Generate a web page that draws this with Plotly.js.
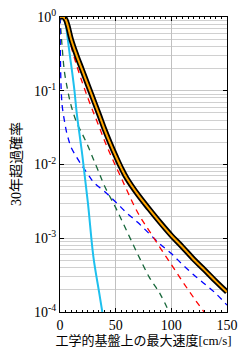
<!DOCTYPE html>
<html>
<head>
<meta charset="utf-8">
<script src="https://cdn.plot.ly/plotly-3.0.1.min.js"></script>
<style>html,body{margin:0;padding:0;background:#fff;}#chart{width:247px;height:357px;}</style>
</head>
<body>
<div id="chart"></div>
<script>
// Velocity (cm/s)
var totalX = [0, 3, 5, 7, 10, 15, 20, 25, 30, 35, 40, 45, 50, 55, 60, 70, 80, 90, 100, 110, 120, 130, 140, 150];
var totalP = [1.0, 1.0, 0.93, 0.76, 0.50, 0.30, 0.19, 0.12, 0.076, 0.048, 0.030, 0.0195, 0.0131, 0.0090, 0.0065, 0.0039, 0.00250, 0.00163, 0.00109, 0.00076, 0.00052, 0.00037, 0.00026, 0.000186];

var redX = [0, 2, 4, 6, 8, 10, 15, 20, 25, 30, 35, 40, 45, 50, 55, 60, 70, 80, 90, 100, 110, 120, 130];
var redP = [1.0, 1.0, 0.93, 0.75, 0.55, 0.40, 0.22, 0.13, 0.080, 0.051, 0.033, 0.021, 0.0140, 0.0095, 0.0066, 0.0045, 0.0022, 0.00127, 0.00074, 0.00044, 0.00026, 0.000157, 0.000097];

var greenX = [0, 1, 2, 4, 7, 10, 15, 20, 25, 30, 35, 40, 50, 60, 70, 80, 90, 98];
var greenP = [1.0, 0.6, 0.38, 0.18, 0.1, 0.063, 0.037, 0.026, 0.018, 0.0118, 0.0078, 0.0051, 0.0026, 0.00125, 0.0006, 0.0003, 0.000175, 0.0001];

var blueX = [0, 0.2, 0.5, 1, 2, 4, 6, 8, 10, 15, 20, 25, 30, 40, 50, 60, 70, 80, 90, 100, 110, 120, 130, 140, 150];
var blueP = [1.0, 0.5, 0.22, 0.11, 0.062, 0.039, 0.027, 0.021, 0.017, 0.0125, 0.0095, 0.0074, 0.0058, 0.0043, 0.0031, 0.0022, 0.00163, 0.00116, 0.00083, 0.00062, 0.00044, 0.00032, 0.00024, 0.000178, 0.000124];

var cyanX = [0, 3, 5, 7, 9, 11, 13, 15, 20, 25, 30, 35, 38];
var cyanP = [1.0, 0.99, 0.8, 0.5, 0.29, 0.175, 0.1, 0.05, 0.0135, 0.0031, 0.00056, 0.00019, 0.0001];

var yTickVals = [1, 0.1, 0.01, 0.001, 0.0001];
var yTickText = ['10<sup>0</sup>', '10<sup>-1</sup>', '10<sup>-2</sup>', '10<sup>-3</sup>', '10<sup>-4</sup>'];
var xTickVals = [0, 50, 100, 150];
var xTickText = ['0', '50', '100', '150'];

var xTitle = '工学的基盤上の最大速度[cm/s]';
var yTitle = '30年超過確率';

var fontFam = '"Liberation Serif", "Noto Sans CJK JP", serif';

var traces = [
  {x: greenX, y: greenP, mode: 'lines', line: {color: '#17673a', width: 1.3, dash: '6px,5px', shape: 'spline'}},
  {x: blueX, y: blueP, mode: 'lines', line: {color: '#0000ff', width: 1.3, dash: '6px,5px', shape: 'spline'}},
  {x: redX, y: redP, mode: 'lines', line: {color: '#ff0000', width: 1.3, dash: '6px,5px', shape: 'spline'}},
  {x: cyanX, y: cyanP, mode: 'lines', line: {color: '#1ec0ee', width: 2, shape: 'spline'}},
  {x: totalX, y: totalP, mode: 'lines', line: {color: '#000000', width: 5.5, shape: 'spline'}},
  {x: totalX, y: totalP, mode: 'lines', line: {color: '#ffa500', width: 2, shape: 'spline'}}
];

var layout = {
  width: 247, height: 357,
  margin: {l: 60, r: 20, t: 17, b: 45},
  showlegend: false,
  paper_bgcolor: '#fff', plot_bgcolor: '#fff',
  font: {family: fontFam, size: 13, color: '#000'},
  xaxis: {
    range: [0, 150], tickvals: xTickVals, ticktext: xTickText,
    showgrid: true, gridcolor: '#c0c0c0', gridwidth: 1,
    zeroline: false, showline: true, linecolor: '#000', linewidth: 1, mirror: 'allticks',
    ticks: 'inside', ticklen: 4, tickcolor: '#000',
    minor: {dtick: 5, ticks: 'inside', ticklen: 2, tickcolor: '#000', showgrid: false},
    tickfont: {family: fontFam, size: 14},
    title: {text: xTitle, font: {family: fontFam, size: 13}, standoff: 4}
  },
  yaxis: {
    type: 'log', range: [-4, 0], tickvals: yTickVals, ticktext: yTickText,
    showgrid: true, gridcolor: '#c8c8c8', gridwidth: 1,
    zeroline: false, showline: true, linecolor: '#000', linewidth: 1, mirror: 'allticks',
    ticks: 'inside', ticklen: 4, tickcolor: '#000',
    minor: {dtick: 'D1', showgrid: true, gridcolor: '#d0d0d0', ticks: '', ticklen: 0},
    tickfont: {family: fontFam, size: 14}
  },
  annotations: [{
    text: yTitle, xref: 'paper', yref: 'paper', x: -0.26, y: 0.5,
    xanchor: 'center', yanchor: 'middle', textangle: -90, showarrow: false,
    font: {family: fontFam, size: 14, color: '#000'}
  }]
};

Plotly.newPlot('chart', traces, layout, {displayModeBar: false, staticPlot: true});
</script>
</body>
</html>
